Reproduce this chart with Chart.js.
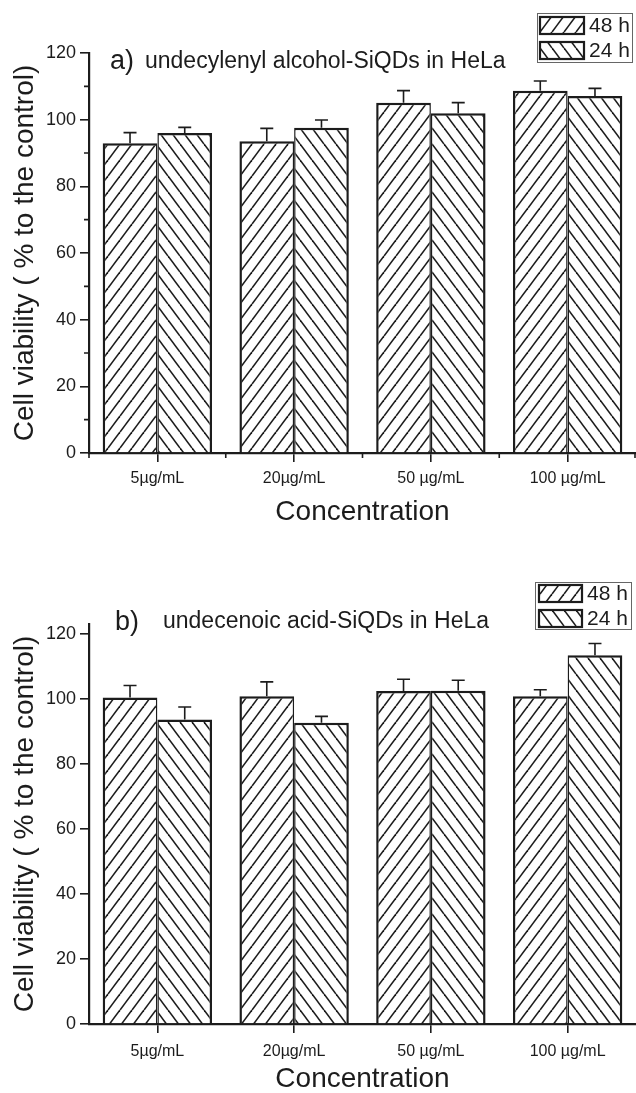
<!DOCTYPE html>
<html><head><meta charset="utf-8">
<script src="https://cdn.jsdelivr.net/npm/chart.js@4.4.1/dist/chart.umd.min.js"></script>
<style>
html,body{margin:0;padding:0;background:#fff;}
#wrap{position:relative;width:636px;height:1093px;overflow:hidden;background:#fff;}
.box{position:absolute;left:0;width:636px;}
</style></head><body>
<div id="wrap">
<div class="box" style="top:0;height:546px"><canvas id="ca"></canvas></div>
<div class="box" style="top:546px;height:547px"><canvas id="cb"></canvas></div>
</div>
<script>
// ---- data ----
const categories = ['5µg/mL', '20µg/mL', '50 µg/mL', '100 µg/mL'];
const seriesNames = ['48 h', '24 h'];
const a48 = [92.9, 93.5, 105.1, 108.7];
const a48Err = [3.2, 3.9, 3.6, 2.9];
const a24 = [96.0, 97.6, 101.9, 107.1];
const a24Err = [1.7, 2.3, 3.2, 2.3];
const b48 = [100.4, 100.8, 102.4, 100.8];
const b48Err = [3.7, 4.4, 3.6, 2.0];
const b24 = [93.6, 92.6, 102.5, 113.4];
const b24Err = [3.9, 2.0, 3.2, 3.6];
const yTicks = [0, 20, 40, 60, 80, 100, 120];
const yMinorTicksA = [10, 30, 50, 70, 90, 110];
const titleA = ['a)', 'undecylenyl alcohol-SiQDs in HeLa'];
const titleB = ['b)', 'undecenoic acid-SiQDs in HeLa'];
const yTitle = 'Cell viability ( % to the control)';
const xTitle = 'Concentration';

// ---- styles ----
const INK = '#1c1c1c';
const FONT = "'Liberation Sans', Arial, sans-serif";

function hatch(dir) {
  const w = 12, h = 16;
  const c = document.createElement('canvas');
  c.width = w; c.height = h;
  const g = c.getContext('2d');
  g.fillStyle = '#ffffff'; g.fillRect(0, 0, w, h);
  g.strokeStyle = INK; g.lineWidth = 1.6;
  for (const dx of [-w, 0, w]) {
    g.beginPath();
    if (dir > 0) { g.moveTo(dx, h); g.lineTo(dx + w, 0); }
    else { g.moveTo(dx, 0); g.lineTo(dx + w, h); }
    g.stroke();
  }
  return g.createPattern(c, 'repeat');
}
const pat48 = hatch(1);
const pat24 = hatch(-1);

const errorBarPlugin = {
  id: 'errbars',
  afterDatasetsDraw(chart) {
    const ctx = chart.ctx, ys = chart.scales.y;
    chart.data.datasets.forEach((ds, di) => {
      const meta = chart.getDatasetMeta(di);
      meta.data.forEach((bar, i) => {
        const top = ys.getPixelForValue(ds.data[i] + ds.errors[i]);
        ctx.save();
        ctx.strokeStyle = INK; ctx.lineWidth = 1.6;
        ctx.beginPath();
        ctx.moveTo(bar.x, bar.y); ctx.lineTo(bar.x, top);
        ctx.moveTo(bar.x - 6.5, top); ctx.lineTo(bar.x + 6.5, top);
        ctx.stroke();
        ctx.restore();
      });
    });
  }
};

const decorPlugin = {
  id: 'decor',
  afterDraw(chart, args, o) {
    const ctx = chart.ctx;
    const ca = chart.chartArea;
    const ys = chart.scales.y;
    ctx.save();
    ctx.strokeStyle = INK; ctx.lineWidth = 1.6;
    if (o.minor) {
      ctx.beginPath();
      o.minorY.forEach(v => {
        const y = ys.getPixelForValue(v);
        ctx.moveTo(ca.left - 5, y); ctx.lineTo(ca.left, y);
      });
      const n = chart.data.labels.length;
      const cw = (ca.right - ca.left) / n;
      for (let i = 0; i <= n; i++) {
        const x = Math.min(ca.left + i * cw, ca.right - 1);
        ctx.moveTo(x, ca.bottom); ctx.lineTo(x, ca.bottom + 5);
      }
      ctx.stroke();
    }
    // title
    ctx.fillStyle = INK;
    ctx.textBaseline = 'alphabetic';
    ctx.textAlign = 'left';
    ctx.font = '27px ' + FONT;
    ctx.fillText(o.title[0], o.t1x, o.t1y);
    ctx.font = '23px ' + FONT;
    ctx.fillText(o.title[1], o.t2x, o.t2y);
    // legend
    const L = o.leg;
    ctx.lineWidth = 1; ctx.strokeStyle = '#666';
    ctx.strokeRect(L.x + 0.5, L.y + 0.5, L.w, L.h);
    const pats = [pat48, pat24];
    ctx.font = '21px ' + FONT;
    ctx.textBaseline = 'middle';
    L.rows.forEach((ry, i) => {
      ctx.fillStyle = pats[i];
      ctx.fillRect(L.sx, ry, L.sw, L.sh);
      ctx.lineWidth = 2.2; ctx.strokeStyle = INK;
      ctx.strokeRect(L.sx, ry, L.sw, L.sh);
      ctx.fillStyle = INK;
      ctx.fillText(seriesNames[i], L.tx, ry + L.sh / 2 + 1);
    });
    ctx.restore();
  }
};

function makeChart(id, d48, e48, d24, e24, cfg) {
  return new Chart(document.getElementById(id), {
    type: 'bar',
    data: {
      labels: categories,
      datasets: [
        { label: seriesNames[0], data: d48, errors: e48, backgroundColor: pat48, borderColor: INK,
          borderWidth: { top: 2.5, left: 2.5, right: 1.5, bottom: 0 }, borderSkipped: false },
        { label: seriesNames[1], data: d24, errors: e24, backgroundColor: pat24, borderColor: INK,
          borderWidth: { top: 2.5, left: 1.5, right: 2.5, bottom: 0 }, borderSkipped: false }
      ]
    },
    plugins: [errorBarPlugin, decorPlugin],
    options: {
      responsive: true, maintainAspectRatio: false, animation: false,
      layout: { padding: { top: cfg.top, left: 0, right: 0, bottom: 0 } },
      datasets: { bar: { categoryPercentage: 0.8, barPercentage: 1.0 } },
      plugins: {
        legend: { display: false }, tooltip: { enabled: false },
        decor: cfg.decor
      },
      scales: {
        x: {
          grid: { display: true, drawOnChartArea: false, offset: false, tickLength: 9, color: INK, lineWidth: 1.6 },
          border: { display: true, width: 2.2, color: INK },
          ticks: { font: { family: FONT, size: 16 }, color: INK, padding: cfg.xtp, maxRotation: 0 },
          title: { display: true, text: xTitle, color: INK, font: { family: FONT, size: 28, lineHeight: 1 }, padding: { top: 0, bottom: cfg.xtb } },
          afterFit(s) { s.height = cfg.xh; }
        },
        y: {
          min: 0, max: cfg.ymax,
          afterBuildTicks(s) { s.ticks = yTicks.map(v => ({ value: v })); },
          grid: { display: true, drawOnChartArea: false, tickLength: 9, color: INK, lineWidth: 1.6 },
          border: { display: true, width: 2.2, color: INK },
          ticks: { font: { family: FONT, size: 18 }, color: INK, padding: 4 },
          title: { display: true, text: yTitle, color: INK, font: { family: FONT, size: 28, lineHeight: 1 }, padding: { top: 11, bottom: 0 } },
          afterFit(s) { s.width = 89; }
        }
      }
    }
  });
}

makeChart('ca', a48, a48Err, a24, a24Err, {
  top: 53, xh: 93, xtp: 7, xtb: 20, ymax: 120,
  decor: { minor: true, minorY: yMinorTicksA, title: titleA, t1x: 110, t1y: 69, t2x: 145, t2y: 68,
    leg: { x: 537, y: 13, w: 95, h: 49, sx: 540, sw: 44, sh: 17, rows: [17, 42], tx: 589 } }
});
makeChart('cb', b48, b48Err, b24, b24Err, {
  top: 78, xh: 69, xtp: 9, xtb: 0, ymax: 123,
  decor: { minor: false, minorY: [], title: titleB, t1x: 115, t1y: 84, t2x: 163, t2y: 82,
    leg: { x: 535, y: 36, w: 96, h: 47, sx: 539, sw: 43, sh: 17, rows: [39, 64], tx: 587 } }
});
</script>
</body></html>
